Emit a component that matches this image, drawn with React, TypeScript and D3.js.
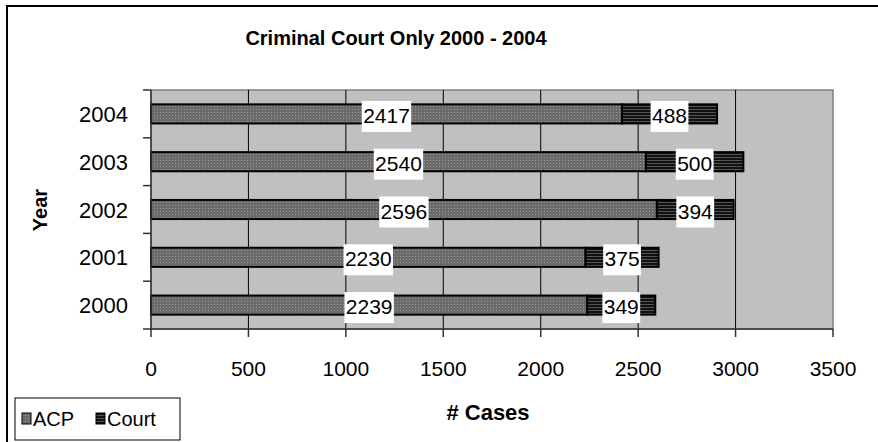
import React from "react";
import { scaleBand, scaleLinear } from "d3";

// datos del gráfico
const years = ["2000", "2001", "2002", "2003", "2004"];
const acpValues = [2239, 2230, 2596, 2540, 2417];
const courtValues = [349, 375, 394, 500, 488];
const xTicks = [0, 500, 1000, 1500, 2000, 2500, 3000, 3500];
const seriesNames = ["ACP", "Court"];

const FONT = "'Liberation Sans', Arial, sans-serif";

export default function App() {
  const width = 878;
  const height = 442;
  const plot = { left: 151, right: 833, top: 90, bottom: 329 };

  const x = scaleLinear().domain([0, 3500]).range([plot.left, plot.right]);
  const y = scaleBand<string>()
    .domain([...years].reverse())
    .range([plot.top, plot.bottom]);
  const barH = y.bandwidth() / 2.5;

  const rows = years.map((yr, i) => ({
    year: yr,
    acp: acpValues[i],
    court: courtValues[i],
  }));

  const labelW = (s: string) => s.length * 11.6 + 3;

  return (
    <svg
      width={width}
      height={height}
      style={{ position: "absolute", left: 0, top: 0, background: "#fff" }}
      fontFamily={FONT}
    >
      <defs>
        <pattern id="pAcp" width={3} height={3} patternUnits="userSpaceOnUse">
          <rect width={3} height={3} fill="#6a6a6a" />
          <rect x={1} y={1} width={1} height={1} fill="#9a9a9a" />
        </pattern>
        <pattern id="pCourt" width={3} height={3} patternUnits="userSpaceOnUse">
          <rect width={3} height={3} fill="#111" />
          <rect x={0} y={1} width={3} height={1} fill="#555" />
        </pattern>
      </defs>

      {/* marco del gráfico */}
      <rect x={7} y={6} width={width + 10} height={height + 10} fill="none" stroke="#000" strokeWidth={2} />

      {/* título */}
      <text x={396} y={45} textAnchor="middle" fontWeight="bold" fontSize={20}>
        Criminal Court Only 2000 - 2004
      </text>

      {/* área de trazado */}
      <rect
        x={plot.left}
        y={plot.top}
        width={plot.right - plot.left}
        height={plot.bottom - plot.top}
        fill="#c0c0c0"
        stroke="#808080"
        strokeWidth={1.5}
      />
      {xTicks.slice(1, -1).map((t) => (
        <line key={t} x1={x(t)} x2={x(t)} y1={plot.top} y2={plot.bottom} stroke="#000" strokeWidth={1} />
      ))}

      {/* barras */}
      {rows.map((d) => {
        const yc = y(d.year)! + y.bandwidth() / 2;
        return (
          <g key={d.year}>
            <rect x={x(0)} y={yc - barH / 2} width={x(d.acp) - x(0)} height={barH}
              fill="url(#pAcp)" stroke="#000" strokeWidth={2} />
            <rect x={x(d.acp)} y={yc - barH / 2} width={x(d.acp + d.court) - x(d.acp)} height={barH}
              fill="url(#pCourt)" stroke="#000" strokeWidth={2} />
          </g>
        );
      })}

      {/* etiquetas de datos */}
      {rows.map((d) => {
        const yc = y(d.year)! + y.bandwidth() / 2;
        const items = [
          { v: d.acp, cx: x(d.acp / 2) },
          { v: d.court, cx: x(d.acp + d.court / 2) },
        ];
        return items.map((it, j) => {
          const s = String(it.v);
          const w = labelW(s);
          return (
            <g key={`${d.year}-${j}`}>
              <rect x={it.cx - w / 2} y={yc - 13} width={w} height={31} fill="#fff" />
              <text x={it.cx} y={yc + 9} textAnchor="middle" fontSize={21}>
                {s}
              </text>
            </g>
          );
        });
      })}

      {/* eje Y */}
      <line x1={plot.left} x2={plot.left} y1={plot.top} y2={plot.bottom} stroke="#333" strokeWidth={1.5} />
      {[...y.domain(), ""].map((_, i) => {
        const yy = plot.top + i * y.step();
        return <line key={i} x1={plot.left - 8} x2={plot.left} y1={yy} y2={yy} stroke="#333" strokeWidth={1.5} />;
      })}
      {years.map((yr) => (
        <text key={yr} x={128} y={y(yr)! + y.bandwidth() / 2 + 8} textAnchor="end" fontSize={22}>
          {yr}
        </text>
      ))}
      <text transform={`translate(47, 210) rotate(-90)`} textAnchor="middle" fontWeight="bold" fontSize={20}>
        Year
      </text>

      {/* eje X */}
      <line x1={plot.left} x2={plot.right} y1={plot.bottom} y2={plot.bottom} stroke="#333" strokeWidth={1.5} />
      {xTicks.map((t) => (
        <g key={t}>
          <line x1={x(t)} x2={x(t)} y1={plot.bottom} y2={plot.bottom + 8} stroke="#333" strokeWidth={1.5} />
          <text x={x(t)} y={376} textAnchor="middle" fontSize={21}>
            {t}
          </text>
        </g>
      ))}
      <text x={488} y={420} textAnchor="middle" fontWeight="bold" fontSize={22}>
        # Cases
      </text>

      {/* leyenda */}
      <rect x={15} y={398} width={165} height={42} fill="#fff" stroke="#000" strokeWidth={1} />
      {seriesNames.map((n, i) => {
        const lx = i === 0 ? 22 : 96;
        return (
          <g key={n}>
            <rect x={lx} y={413} width={9} height={11} fill={i === 0 ? "url(#pAcp)" : "url(#pCourt)"} stroke="#000" strokeWidth={1} />
            <text x={lx + 11} y={426} fontSize={20}>
              {n}
            </text>
          </g>
        );
      })}
    </svg>
  );
}
